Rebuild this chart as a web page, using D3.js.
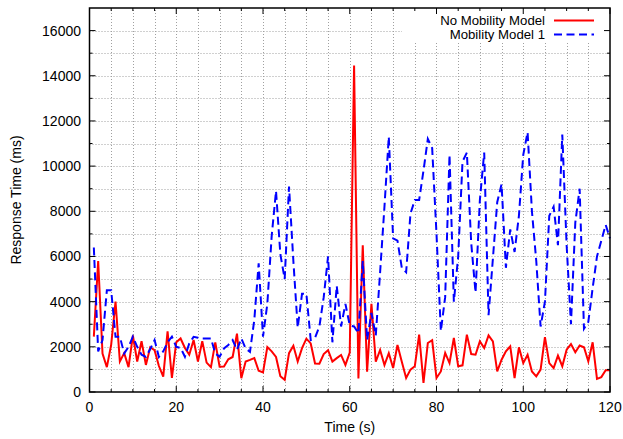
<!DOCTYPE html>
<html>
<head>
<meta charset="utf-8">
<script src="https://cdn.jsdelivr.net/npm/d3@7"></script>
<style>
  html, body { margin: 0; padding: 0; background: #fff; }
  svg { display: block; font-family: "Liberation Sans", Arial, sans-serif; }
</style>
</head>
<body>
<div id="chart"></div>
<script>
// response time per second, two runs
const times = d3.range(1, 121);

const noMobility = [
  2450, 5800, 1700, 1100, 2100, 4000, 1350, 1720, 1100, 2500,
  1350, 2250, 1200, 1980, 1850, 1150, 680, 2680, 620, 2200,
  2370, 1950, 1650, 2300, 1350, 2250, 1300, 1100, 2200, 1120,
  1130, 1450, 1550, 2580, 610, 1350, 1420, 1500, 940, 870,
  1990, 1800, 1550, 700, 540, 1720, 2050, 1350, 1940, 2360,
  2150, 1260, 1250, 1680, 1850, 1350, 1500, 1640, 1200, 1750,
  14450, 600, 6500, 900, 3900, 1340, 1860, 1190, 1720, 1060,
  2080, 1340, 620, 990, 1140, 2540, 400, 2170, 2290, 620,
  910, 1730, 1280, 2390, 1140, 1180, 2540, 1680, 1650, 2240,
  1950, 2510, 2240, 910, 1430, 1800, 2020, 620, 1980, 1280,
  1650, 910, 690, 990, 2430, 1280, 1060, 1610, 1140, 1870,
  2120, 1760, 2060, 1980, 1360, 2200, 580, 660, 960, 960
];

const mobility1 = [
  6400, 1800, 2300, 4500, 4500, 2450, 2450, 1700, 2000, 2450,
  2000, 1650, 1550, 1900, 2300, 1550, 1800, 2200, 2450, 2000,
  1950, 1560, 2150, 2440, 2400, 2370, 2370, 2370, 1710, 1560,
  1930, 2080, 2300, 1860, 2370, 1930, 1780, 3200, 5700, 2450,
  3900, 6900, 8900, 6100, 5000, 9100, 5800, 2850, 4350, 4350,
  2300, 2400, 2900, 4200, 6000, 2200, 4700, 2900, 3900, 2950,
  2900, 2600, 5800, 2300, 3500, 2500, 5300, 8200, 11300, 6800,
  6700, 5500, 5300, 7900, 8500, 8500, 9800, 11200, 10800, 7000,
  2700, 4200, 10500, 4000, 6000, 10200, 10600, 6600, 4400, 8500,
  10600, 3400, 5900, 8400, 9200, 5500, 7200, 6200, 7800, 10500,
  11500, 8000, 5800, 2900, 4000, 7800, 8200, 6500, 11400, 6500,
  3000, 7500, 9000, 2800, 3100, 4600, 6000, 6700, 7400, 6800
];

const xTicks = [0, 20, 40, 60, 80, 100, 120];
const xMinor = [5, 10, 15, 25, 30, 35, 45, 50, 55, 65, 70, 75, 85, 90, 95, 105, 110, 115];
const yTicks = [0, 2000, 4000, 6000, 8000, 10000, 12000, 14000, 16000];
const yMinor = [1000, 3000, 5000, 7000, 9000, 11000, 13000, 15000];

const series = [
  { name: 'No Mobility Model', values: noMobility, color: '#ff0000', dash: null },
  { name: 'Mobility Model 1',  values: mobility1,  color: '#0000ff', dash: '8,4.5' },
];

const W = 623, H = 439;
const margin = { top: 8, right: 13, bottom: 47, left: 89.5 };

const svg = d3.select('#chart').append('svg')
  .attr('width', W).attr('height', H);

const x = d3.scaleLinear().domain([0, 120]).range([margin.left, W - margin.right]);
const y = d3.scaleLinear().domain([0, 17000]).range([H - margin.bottom, margin.top]);

const x0 = x.range()[0], x1 = x.range()[1];
const y0 = y.range()[0], y1 = y.range()[1];

// grid (dotted), skipping the frame lines
const grid = svg.append('g')
  .attr('stroke', '#a0a0a0')
  .attr('stroke-width', 1)
  .attr('stroke-dasharray', '1,2');

grid.selectAll('.gx')
  .data(xTicks.concat(xMinor).filter(d => d > 0 && d < 120))
  .join('line')
  .attr('x1', d => Math.round(x(d)) + 0.5).attr('x2', d => Math.round(x(d)) + 0.5)
  .attr('y1', y0).attr('y2', y1);

grid.selectAll('.gy')
  .data(yTicks.concat(yMinor).filter(d => d > 0))
  .join('line')
  .attr('y1', d => Math.round(y(d)) + 0.5).attr('y2', d => Math.round(y(d)) + 0.5)
  .attr('x1', x0).attr('x2', x1);

// legend area is cleared
const keyW = 208, keyH = 34;
svg.append('rect')
  .attr('x', x1 - keyW).attr('y', y1)
  .attr('width', keyW).attr('height', keyH)
  .attr('fill', '#fff');

// lines
const line = vals => d3.line()
  .x((d, i) => x(times[i]))
  .y(d => y(d))(vals);

series.forEach(s => {
  svg.append('path')
    .attr('d', line(s.values))
    .attr('fill', 'none')
    .attr('stroke', s.color)
    .attr('stroke-width', 2)
    .attr('stroke-linejoin', 'miter')
    .attr('stroke-dasharray', s.dash);
});

// ticks on all four sides
const tickG = svg.append('g').attr('stroke', '#000').attr('stroke-width', 1);
const majorLen = 6, minorLen = 3;

[[xTicks, majorLen], [xMinor, minorLen]].forEach(([vals, len]) => {
  tickG.selectAll(null).data(vals).join('line')
    .attr('x1', d => x(d)).attr('x2', d => x(d))
    .attr('y1', y0).attr('y2', y0 - len);
  tickG.selectAll(null).data(vals).join('line')
    .attr('x1', d => x(d)).attr('x2', d => x(d))
    .attr('y1', y1).attr('y2', y1 + len);
});
[[yTicks, majorLen], [yMinor, minorLen]].forEach(([vals, len]) => {
  tickG.selectAll(null).data(vals).join('line')
    .attr('y1', d => y(d)).attr('y2', d => y(d))
    .attr('x1', x0).attr('x2', x0 + len);
  tickG.selectAll(null).data(vals).join('line')
    .attr('y1', d => y(d)).attr('y2', d => y(d))
    .attr('x1', x1).attr('x2', x1 - len);
});

// frame
svg.append('rect')
  .attr('x', x0).attr('y', y1)
  .attr('width', x1 - x0).attr('height', y0 - y1)
  .attr('fill', 'none')
  .attr('stroke', '#000')
  .attr('stroke-width', 1.5);

// tick labels
svg.append('g').selectAll('text')
  .data(xTicks).join('text')
  .attr('x', d => x(d)).attr('y', 412)
  .attr('text-anchor', 'middle')
  .attr('font-size', 14)
  .text(d => d);

svg.append('g').selectAll('text')
  .data(yTicks).join('text')
  .attr('x', 81).attr('y', d => y(d) + 5)
  .attr('text-anchor', 'end')
  .attr('font-size', 14)
  .text(d => d);

// axis titles
svg.append('text')
  .attr('x', (x0 + x1) / 2).attr('y', 432)
  .attr('text-anchor', 'middle')
  .attr('font-size', 14)
  .text('Time (s)');

svg.append('text')
  .attr('transform', `translate(21,${(y0 + y1) / 2}) rotate(-90)`)
  .attr('text-anchor', 'middle')
  .attr('font-size', 14)
  .text('Response Time (ms)');

// key
series.forEach((s, i) => {
  const ly = 20.5 + i * 14;
  svg.append('text')
    .attr('x', 545).attr('y', ly + 4.6)
    .attr('text-anchor', 'end')
    .attr('font-size', 13.2)
    .text(s.name);
  svg.append('line')
    .attr('x1', 554).attr('x2', 594)
    .attr('y1', ly).attr('y2', ly)
    .attr('stroke', s.color)
    .attr('stroke-width', 2)
    .attr('stroke-dasharray', s.dash);
});
</script>
</body>
</html>
